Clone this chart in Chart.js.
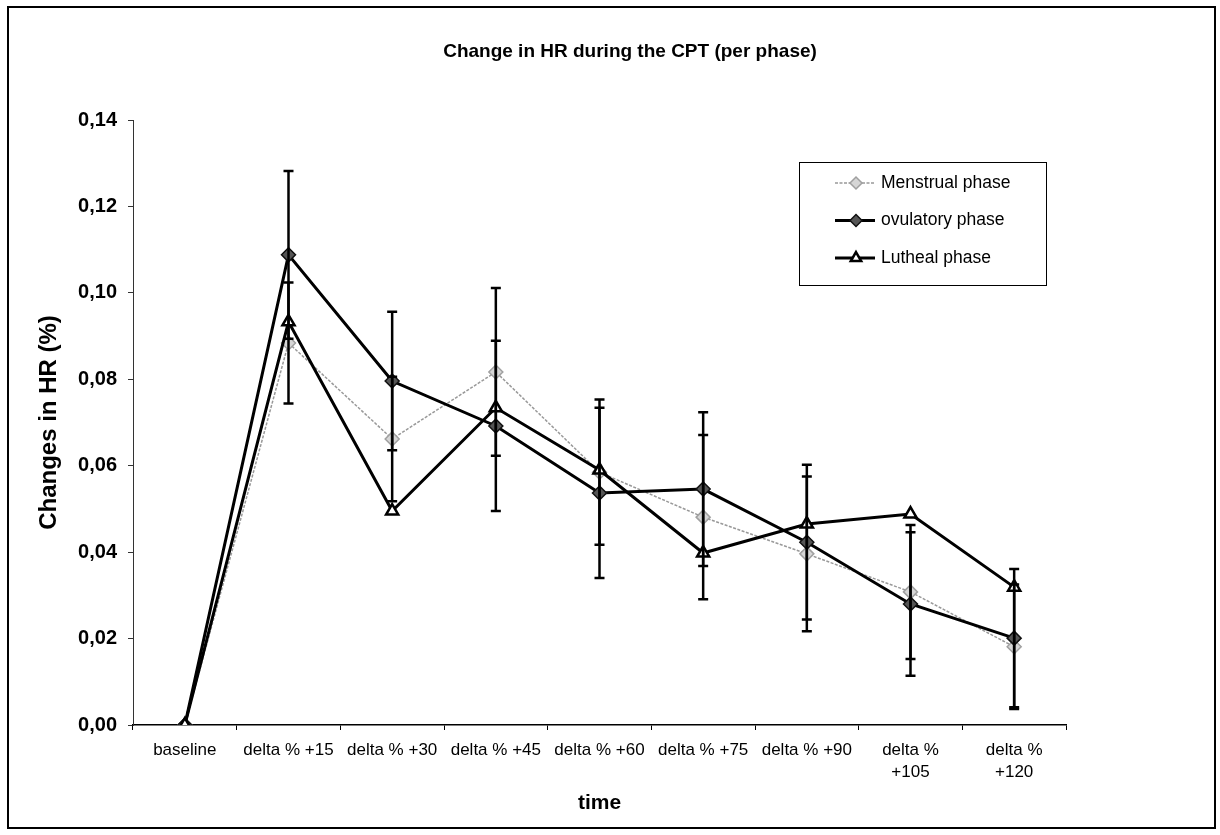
<!DOCTYPE html>
<html>
<head>
<meta charset="utf-8">
<title>Change in HR during the CPT (per phase)</title>
<script src="https://cdn.jsdelivr.net/npm/chart.js@4.4.1/dist/chart.umd.min.js"></script>
<style>
  html, body { margin: 0; padding: 0; background: #fff; }
  #wrap { position: relative; width: 1220px; height: 835px; }
  #frame { position: absolute; left: 7px; top: 6px; width: 1209px; height: 823px;
           border: 2px solid #000; box-sizing: border-box; pointer-events: none; }
</style>
</head>
<body>
<div id="wrap">
  <canvas id="hrChart" width="1220" height="835"></canvas>
  <div id="frame"></div>
</div>
<script>
// Data
const categories = ['baseline', 'delta % +15', 'delta % +30', 'delta % +45', 'delta % +60',
  'delta % +75', 'delta % +90', ['delta %', '+105'], ['delta %', '+120']];
const menstrual = [0, 0.0884, 0.0662, 0.0817, 0.0585, 0.0481, 0.0396, 0.0308, 0.0181];
const ovulatory = [0, 0.1088, 0.0796, 0.0692, 0.0537, 0.0546, 0.0423, 0.0280, 0.0201];
const luteal    = [0, 0.0933, 0.0495, 0.0734, 0.0590, 0.0398, 0.0465, 0.0488, 0.0319];
// half widths of the error bars (none drawn for baseline / luteal)
const menstrualErr = [null, 0.0140, 0.0144, 0.0194, 0.0168, 0.0190, 0.0179, 0.0155, 0.0144];
const ovulatoryErr = [null, 0.0194, 0.0160, 0.0197, 0.0197, 0.0178, 0.0179, 0.0166, 0.0160];
const yTicks = [0, 0.02, 0.04, 0.06, 0.08, 0.10, 0.12, 0.14];

const FONT = '"Liberation Sans", Arial, sans-serif';
Chart.defaults.font.family = FONT;
Chart.defaults.color = '#000';

// Error bars drawn through the y scale
const errorBarPlugin = {
  id: 'errorBars',
  afterDatasetsDraw(chart) {
    const ctx = chart.ctx;
    const yScale = chart.scales.y;
    chart.data.datasets.forEach((ds, i) => {
      if (!ds.errors) return;
      const meta = chart.getDatasetMeta(i);
      meta.data.forEach((pt, j) => {
        const err = ds.errors[j];
        if (err == null) return;
        const top = yScale.getPixelForValue(ds.data[j] + err);
        const bottom = yScale.getPixelForValue(ds.data[j] - err);
        ctx.save();
        ctx.strokeStyle = '#000';
        ctx.lineWidth = 2.5;
        ctx.beginPath();
        ctx.moveTo(pt.x, top);
        ctx.lineTo(pt.x, bottom);
        ctx.moveTo(pt.x - 5, top);
        ctx.lineTo(pt.x + 5, top);
        ctx.moveTo(pt.x - 5, bottom);
        ctx.lineTo(pt.x + 5, bottom);
        ctx.stroke();
        ctx.restore();
      });
    });
  }
};

// Title + boxed legend inside the plot (Excel style)
const decorPlugin = {
  id: 'decor',
  afterDraw(chart) {
    const ctx = chart.ctx;
    const area = chart.chartArea;
    ctx.save();
    ctx.fillStyle = '#000';
    ctx.font = 'bold 19px ' + FONT;
    ctx.textAlign = 'center';
    ctx.textBaseline = 'middle';
    ctx.fillText('Change in HR during the CPT (per phase)', 630, 52);

    // legend box
    const bx = area.right - 267, by = area.top + 42, bw = 247, bh = 123;
    ctx.fillStyle = '#fff';
    ctx.fillRect(bx, by, bw, bh);
    ctx.strokeStyle = '#000';
    ctx.lineWidth = 1;
    ctx.strokeRect(bx + 0.5, by + 0.5, bw, bh);

    const order = [0, 1, 2];
    order.forEach((i, row) => {
      const ds = chart.data.datasets[i];
      const ry = by + 21 + row * 37.5;
      ctx.save();
      ctx.strokeStyle = ds.borderColor;
      ctx.lineWidth = ds.borderWidth;
      ctx.setLineDash(ds.borderDash || []);
      ctx.beginPath();
      ctx.moveTo(bx + 36, ry);
      ctx.lineTo(bx + 76, ry);
      ctx.stroke();
      ctx.restore();
      ctx.save();
      ctx.fillStyle = ds.pointBackgroundColor;
      ctx.strokeStyle = ds.pointBorderColor;
      ctx.lineWidth = ds.pointBorderWidth;
      Chart.helpers.drawPoint(ctx, {
        pointStyle: ds.pointStyle, radius: ds.pointRadius - 1,
        borderWidth: ds.pointBorderWidth, rotation: 0
      }, bx + 57, ry);
      ctx.restore();
      ctx.fillStyle = '#000';
      ctx.font = '17.5px ' + FONT;
      ctx.textAlign = 'left';
      ctx.textBaseline = 'middle';
      ctx.fillText(ds.label, bx + 82, ry);
    });
    ctx.restore();
  }
};

const ctx = document.getElementById('hrChart').getContext('2d');
new Chart(ctx, {
  type: 'line',
  data: {
    labels: categories,
    datasets: [
      {
        label: 'Menstrual phase',
        data: menstrual,
        errors: menstrualErr,
        borderColor: '#999',
        borderWidth: 1.5,
        borderDash: [3, 1.5],
        pointStyle: 'rectRot',
        pointRadius: 7,
        pointBackgroundColor: '#d6d6d6',
        pointBorderColor: '#a0a0a0',
        pointBorderWidth: 1.5,
        tension: 0,
        order: 3
      },
      {
        label: 'ovulatory phase',
        data: ovulatory,
        errors: ovulatoryErr,
        borderColor: '#000',
        borderWidth: 3,
        pointStyle: 'rectRot',
        pointRadius: 7,
        pointBackgroundColor: '#555',
        pointBorderColor: '#111',
        pointBorderWidth: 1.5,
        tension: 0,
        order: 2
      },
      {
        label: 'Lutheal phase',
        data: luteal,
        borderColor: '#000',
        borderWidth: 3,
        pointStyle: 'triangle',
        pointRadius: 7,
        pointBackgroundColor: '#fff',
        pointBorderColor: '#000',
        pointBorderWidth: 2.5,
        tension: 0,
        order: 1
      }
    ]
  },
  options: {
    responsive: false,
    animation: false,
    layout: { padding: { top: 120, right: 154, bottom: 0, left: 0 } },
    plugins: {
      legend: { display: false },
      tooltip: { enabled: false },
      title: { display: false }
    },
    scales: {
      x: {
        offset: true,
        grid: { offset: true, drawOnChartArea: false, drawTicks: true, tickLength: 5, color: '#000' },
        border: { display: true, color: '#000', width: 1.5 },
        ticks: {
          padding: 9,
          maxRotation: 0,
          autoSkip: false,
          font: { size: 17, lineHeight: 1.3 }
        },
        title: {
          display: true,
          text: 'time',
          font: { size: 21, weight: 'bold' },
          padding: { top: 0, bottom: 19 }
        },
        afterFit(scale) { scale.height = 110; }
      },
      y: {
        min: 0,
        max: 0.14,
        afterBuildTicks(scale) { scale.ticks = yTicks.map(v => ({ value: v })); },
        grid: { drawOnChartArea: false, drawTicks: true, tickLength: 5, color: '#333' },
        border: { display: true, color: '#333', width: 1 },
        ticks: {
          padding: 11,
          font: { size: 20, weight: 'bold' },
          callback: v => v.toFixed(2).replace('.', ',')
        },
        title: {
          display: true,
          text: 'Changes in HR (%)',
          font: { size: 24, weight: 'bold' },
          padding: { top: 35, bottom: 0 }
        },
        afterFit(scale) { scale.width = 133; }
      }
    }
  },
  plugins: [errorBarPlugin, decorPlugin]
});
</script>
</body>
</html>
